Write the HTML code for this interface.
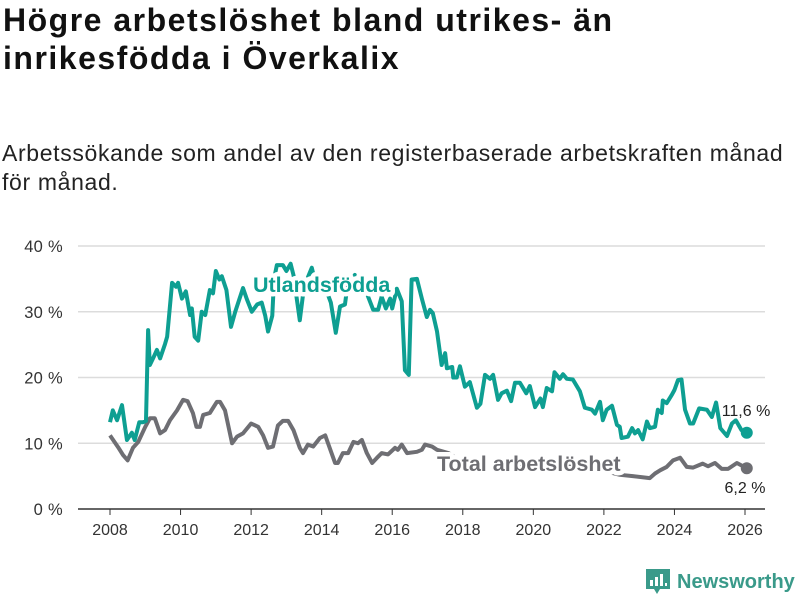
<!DOCTYPE html>
<html><head><meta charset="utf-8">
<style>
body{margin:0;width:800px;height:600px;background:#fff;overflow:hidden;font-family:"Liberation Sans","DejaVu Sans",sans-serif;color:#111}
h1{position:absolute;left:3px;top:1px;margin:0;font-size:32px;line-height:38px;font-weight:bold;letter-spacing:1.5px;width:800px;white-space:nowrap}
.sub{position:absolute;left:2px;top:139px;margin:0;font-size:23px;line-height:29px;color:#222;letter-spacing:0.65px;width:800px;white-space:nowrap}
svg{position:absolute;left:0;top:0}
.logo{position:absolute;left:645px;top:568px;font-size:20px;font-weight:bold;color:#3a9a8a;display:flex;align-items:center}
</style></head><body>
<h1>Högre arbetslöshet bland utrikes- än<br>inrikesfödda i Överkalix</h1>
<p class="sub">Arbetssökande som andel av den registerbaserade arbetskraften månad<br>för månad.</p>
<svg id="chart" width="800" height="600"></svg>
<div class="logo"><svg width="26" height="28" viewBox="0 0 26 28" style="position:static;margin-right:6px"><path d="M1 1h24v20H15l-3 5-3-5H1z" fill="#3a9a8a"/><rect x="5" y="12" width="3" height="6" fill="#fff"/><rect x="10" y="9" width="3" height="9" fill="#fff"/><rect x="15" y="6" width="3" height="12" fill="#fff"/><rect x="20" y="15" width="2" height="3" fill="#fff"/></svg>Newsworthy</div>
<script>
const yTicks=[0,10,20,30,40];
const xTicks=[2008,2010,2012,2014,2016,2018,2020,2022,2024,2026];
const utlDates=[2008.0,2008.08,2008.2,2008.34,2008.48,2008.62,2008.7,2008.83,2008.94,2009.02,2009.08,2009.13,2009.22,2009.33,2009.42,2009.56,2009.62,2009.76,2009.87,2009.93,2010.04,2010.15,2010.27,2010.32,2010.4,2010.5,2010.6,2010.7,2010.83,2010.92,2011.0,2011.1,2011.17,2011.3,2011.43,2011.55,2011.77,2011.88,2012.02,2012.17,2012.3,2012.4,2012.48,2012.6,2012.65,2012.73,2012.9,2013.0,2013.12,2013.2,2013.38,2013.5,2013.72,2013.8,2013.95,2014.15,2014.26,2014.4,2014.52,2014.66,2014.72,2014.94,2015.28,2015.46,2015.6,2015.7,2015.82,2015.94,2016.0,2016.13,2016.27,2016.36,2016.47,2016.55,2016.7,2016.84,2016.98,2017.07,2017.15,2017.27,2017.4,2017.5,2017.55,2017.7,2017.73,2017.83,2017.92,2018.06,2018.2,2018.4,2018.5,2018.63,2018.77,2018.86,2019.0,2019.1,2019.25,2019.37,2019.48,2019.62,2019.8,2019.9,2020.05,2020.2,2020.27,2020.38,2020.53,2020.6,2020.75,2020.84,2020.95,2021.12,2021.32,2021.46,2021.66,2021.75,2021.89,2021.97,2022.08,2022.23,2022.37,2022.45,2022.5,2022.68,2022.8,2022.88,2022.97,2023.1,2023.22,2023.3,2023.45,2023.53,2023.64,2023.67,2023.78,2023.93,2024.0,2024.1,2024.2,2024.3,2024.44,2024.53,2024.7,2024.92,2025.06,2025.18,2025.3,2025.49,2025.63,2025.74,2025.9,2026.05];
const utlValues=[13.2,15,13.5,15.8,10.5,11.6,10.5,13.2,13.2,13.4,27.2,21.9,22.9,24.2,22.9,25.1,26.2,34.4,33.8,34.4,32,33.1,29.5,30.5,26.2,25.6,30,29.5,33.3,32.8,36.2,34.9,35.4,33.3,27.7,30,33.6,31.9,30,31.1,31.4,29.4,27,29.4,35,37.1,37.1,36.2,37.3,35.6,28.7,33.8,36.7,34.9,35.4,33,31.4,26.8,30.8,31.1,33.5,35.6,32.8,30.3,30.3,32.3,30.5,32,30.5,33.5,31.6,21.1,20.4,34.9,35,32,29.2,30.3,29.8,27,21.9,23.7,21.4,21.6,20,20,21.7,18.6,19.3,15.4,16,20.4,19.8,20.4,16.6,17.6,18,16.4,19.2,19.2,17.6,18.7,15.5,16.8,15.5,18.4,17.9,20.8,19.8,20.5,19.8,19.7,17.9,15.4,15.1,14.5,16.3,13.5,15.1,15.7,12.8,12.5,10.8,11,12.3,11.5,12,10.6,13.3,12.3,12.5,15.1,14.6,16.5,16.1,17.4,18.1,19.6,19.7,15.1,13,13,15.3,15.1,14,16.2,12.3,11.1,13,13.5,12,11.6];
const totDates=[2008.0,2008.23,2008.37,2008.5,2008.65,2008.8,2009.0,2009.13,2009.27,2009.42,2009.56,2009.7,2009.9,2010.07,2010.2,2010.35,2010.45,2010.55,2010.64,2010.83,2011.03,2011.12,2011.26,2011.46,2011.6,2011.77,2012.0,2012.2,2012.34,2012.48,2012.62,2012.76,2012.9,2013.05,2013.2,2013.38,2013.47,2013.61,2013.76,2013.95,2014.1,2014.18,2014.38,2014.46,2014.6,2014.75,2014.9,2015.03,2015.14,2015.28,2015.43,2015.57,2015.7,2015.88,2016.08,2016.16,2016.27,2016.42,2016.7,2016.84,2016.93,2017.13,2017.27,2017.6,2018.0,2018.5,2019.0,2019.5,2020.0,2020.4,2021.0,2021.5,2022.0,2022.45,2022.82,2023.3,2023.45,2023.6,2023.78,2023.96,2024.16,2024.35,2024.53,2024.8,2024.95,2025.15,2025.34,2025.52,2025.77,2026.05];
const totValues=[11.2,9.4,8.2,7.4,9.3,10.2,12.5,13.8,13.8,11.5,12,13.5,15,16.6,16.4,14.6,12.5,12.5,14.3,14.6,16.3,16.3,15,10,11,11.5,13,12.5,11.2,9.3,9.5,12.7,13.4,13.4,12,9.3,8.5,9.8,9.5,10.8,11.2,10,7,7,8.5,8.5,10.2,10,10.5,8.5,7,7.8,8.5,8.3,9.3,9,9.8,8.5,8.7,9,9.8,9.5,9,8.5,7,6.5,6,6.2,7,7.5,6.5,6.3,5.8,5.2,5,4.7,5.4,5.9,6.4,7.4,7.8,6.4,6.3,6.9,6.5,7,6.1,6.1,7,6.2];
const NS='http://www.w3.org/2000/svg';
const svg=document.getElementById('chart');
const X=y=>110+(y-2008)*(745-110)/18;
const Y=v=>509-v*(509-246)/40;
function el(t,a,p){const e=document.createElementNS(NS,t);for(const k in a)e.setAttribute(k,a[k]);(p||svg).appendChild(e);return e;}
yTicks.forEach(v=>{
  const l=el('line',{x1:78,x2:765,y1:Y(v),y2:Y(v),stroke:v===0?'#333':'#dcdcdc','stroke-width':1.5});
  
  
  const t=el('text',{x:63,y:Y(v)+6,'text-anchor':'end','font-size':16.5,fill:'#333','letter-spacing':0.3});
  t.textContent=v+' %';
  
  
});
xTicks.forEach(y=>{
  const l=el('line',{x1:X(y),x2:X(y),y1:509,y2:515,stroke:'#333','stroke-width':1});
  
  
  const t=el('text',{x:X(y),y:535,'text-anchor':'middle','font-size':16,fill:'#333'});
  t.textContent=y;
  
  
});
function line(d,v,c,name){
  const p=el('polyline',{points:d.map((x,i)=>X(x)+','+Y(v[i])).join(' '),fill:'none',stroke:c,'stroke-width':4,'stroke-linejoin':'round'});
  
  
  const c2=el('circle',{cx:X(d[d.length-1]),cy:Y(v[v.length-1]),r:6,fill:c});
  
  
}
line(totDates,totValues,'#6e6e73','total-line');
line(utlDates,utlValues,'#0e9f92','utlandsfodda-line');
function lab(x,y,txt,c,name,size,bold,anchor){
  const t=el('text',{x:x,y:y,'font-size':size,'font-weight':bold?'bold':'normal',fill:c,stroke:'#fff','stroke-width':bold?9:5,'stroke-linejoin':'round','paint-order':'stroke','text-anchor':anchor||'start'});
  t.textContent=txt;
  
  
}
lab(253,292,'Utlandsfödda','#0e9f92','utlandsfodda-label',21.5,true);
lab(437,471,'Total arbetslöshet','#6e6e73','total-label',21.5,true);
lab(746,416,'11,6 %','#222','utlandsfodda-end-value',16,false,'middle');
lab(745,493,'6,2 %','#222','total-end-value',16,false,'middle');
</script>
</body></html>
